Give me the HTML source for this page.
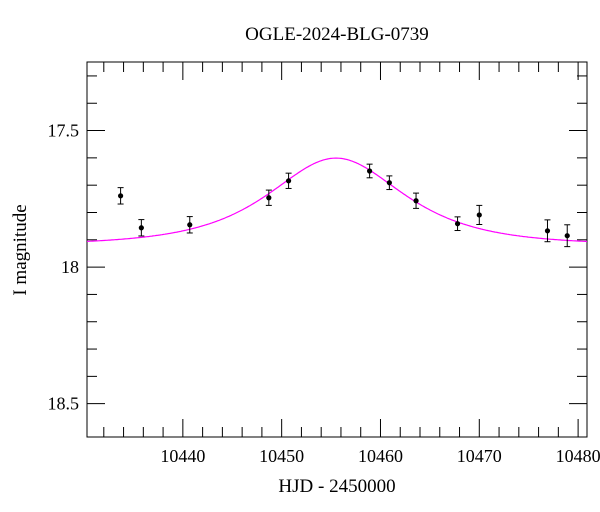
<!DOCTYPE html>
<html><head><meta charset="utf-8"><style>
body{margin:0;background:#fff}
svg{display:block}
text{font-family:"Liberation Serif",serif;fill:#000}
</style></head><body>
<svg id="chart" width="600" height="512" viewBox="0 0 600 512" xmlns="http://www.w3.org/2000/svg">
<text x="337" y="40" font-size="19" text-anchor="middle">OGLE-2024-BLG-0739</text>
<text x="337" y="492" font-size="19" text-anchor="middle">HJD - 2450000</text>
<text transform="translate(26,250) rotate(-90)" font-size="19" text-anchor="middle">I magnitude</text>
<g id="axes"></g>
<g id="marks"></g>
</svg>
<script>
const obsDates = [10433.7,10435.8,10440.7,10448.7,10450.7,10458.9,10460.9,10463.6,10467.8,10470.0,10476.9,10478.9];
const obsMags  = [17.739,17.856,17.845,17.746,17.684,17.648,17.691,17.757,17.841,17.809,17.867,17.885];
const obsErrs  = [0.03,0.03,0.03,0.028,0.028,0.025,0.025,0.028,0.025,0.035,0.04,0.04];
const xTicks = [10440,10450,10460,10470,10480];
const yTicks = [17.5,18,18.5];
const modelT0 = 10455.5, modelU0 = 1.0, modelTE = 8.2, modelBase = 17.92;

const L=87,R=587,T=62,B=437;
const xMin=10430.3,xMax=10480.9,yMin=17.249,yMax=18.622;
const X=d=>L+(d-xMin)/(xMax-xMin)*(R-L);
const Y=m=>T+(m-yMin)/(yMax-yMin)*(B-T);
const NS="http://www.w3.org/2000/svg";
function mk(tag,attrs,parent){const e=document.createElementNS(NS,tag);for(const k in attrs)e.setAttribute(k,attrs[k]);parent.appendChild(e);return e;}
const ax=document.getElementById('axes'), mg=document.getElementById('marks');
const frame=mk('rect',{x:L,y:T,width:R-L,height:B-T,fill:'none',stroke:'#000','stroke-width':1},ax);


for(let d=10432; d<=10480; d+=2){
  const major = d%10===0, len = major?18:10, x=X(d);
  mk('line',{x1:x,y1:B,x2:x,y2:B-len,stroke:'#000'},ax);
  mk('line',{x1:x,y1:T,x2:x,y2:T+len,stroke:'#000'},ax);
}
xTicks.forEach(d=>{
  const t=mk('text',{x:X(d),y:B+25,'font-size':18,'text-anchor':'middle'},ax);
  t.textContent=d;
  
  
});
for(let k=3;k<=16;k++){
  const m=16.9+k*0.1; if(m<yMin||m>yMax)continue;
  const major=Math.abs(m*2-Math.round(m*2))<1e-6, len=major?18:10, y=Y(m);
  mk('line',{x1:L,y1:y,x2:L+len,y2:y,stroke:'#000'},ax);
  mk('line',{x1:R,y1:y,x2:R-len,y2:y,stroke:'#000'},ax);
}
yTicks.forEach(m=>{
  const t=mk('text',{x:79,y:Y(m)+6,'font-size':18,'text-anchor':'end'},ax);
  t.textContent=(m===18?'18':String(m));
  
  
});
let pts=[];
for(let x=L;x<=R;x+=1){
  const d=xMin+(x-L)/(R-L)*(xMax-xMin);
  const tau=(d-modelT0)/modelTE, u=Math.sqrt(modelU0*modelU0+tau*tau);
  const A=(u*u+2)/(u*Math.sqrt(u*u+4));
  pts.push(x.toFixed(1)+','+Y(modelBase-2.5*Math.log10(A)).toFixed(1));
}
const curve=mk('polyline',{points:pts.join(' '),fill:'none',stroke:'#ff00ff','stroke-width':1.2},mg);


obsDates.forEach((d,i)=>{
  const x=X(d), y=Y(obsMags[i]), y1=Y(obsMags[i]-obsErrs[i]), y2=Y(obsMags[i]+obsErrs[i]);
  const g=mk('g',{},mg);
  
  
  mk('line',{x1:x,y1:y1,x2:x,y2:y2,stroke:'#000'},g);
  mk('line',{x1:x-3,y1:y1,x2:x+3,y2:y1,stroke:'#000'},g);
  mk('line',{x1:x-3,y1:y2,x2:x+3,y2:y2,stroke:'#000'},g);
  mk('circle',{cx:x,cy:y,r:2.6,fill:'#000'},g);
});
</script>
</body></html>
